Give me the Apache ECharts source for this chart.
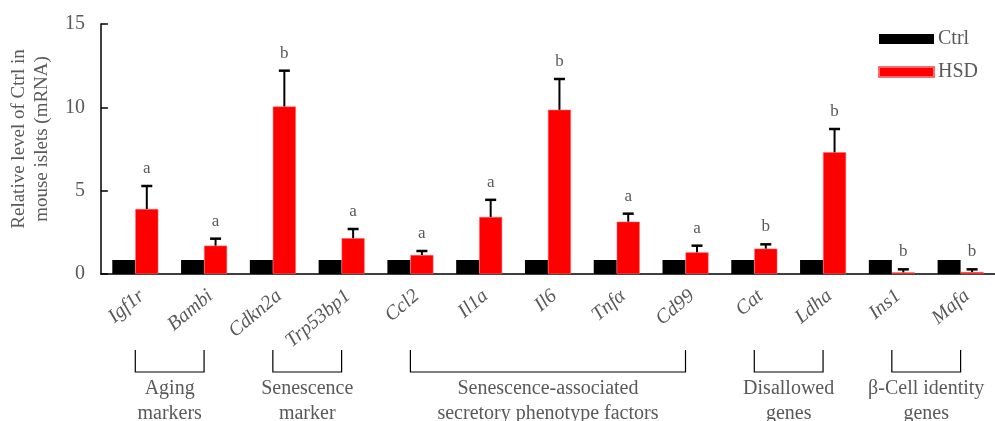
<!DOCTYPE html>
<html>
<head>
<meta charset="utf-8">
<script src="https://cdn.jsdelivr.net/npm/echarts@6/dist/echarts.min.js"></script>
<style>
html,body{margin:0;padding:0;background:#fff;}
#main{width:995px;height:421px;}
</style>
</head>
<body>
<div id="main"></div>
<script>
const categories = ['Igf1r','Bambi','Cdkn2a','Trp53bp1','Ccl2','Il1a','Il6','Tnfα','Cd99','Cat','Ldha','Ins1','Mafa'];
const ctrlValues = [0.84,0.84,0.84,0.84,0.84,0.84,0.84,0.84,0.84,0.84,0.84,0.84,0.84];
const hsdValues = [3.9,1.7,10.05,2.15,1.14,3.42,9.85,3.14,1.3,1.52,7.3,0.1,0.12];
const hsdErrTop = [5.28,2.12,12.2,2.7,1.38,4.45,11.7,3.62,1.7,1.78,8.7,0.28,0.28];
const sigLetters = ['a','a','b','a','a','a','b','a','a','b','b','b','b'];
const yTicks = [0,5,10,15];
const groups = [
  {from:'Igf1r', to:'Bambi', label:'Aging\nmarkers'},
  {from:'Cdkn2a', to:'Trp53bp1', label:'Senescence\nmarker'},
  {from:'Ccl2', to:'Cd99', label:'Senescence-associated\nsecretory phenotype factors'},
  {from:'Cat', to:'Ldha', label:'Disallowed\ngenes'},
  {from:'Ins1', to:'Mafa', label:'β-Cell identity\ngenes'}
];

const FONT = '"Liberation Serif","Times New Roman",serif';
const GRAY = '#595959';
const BAR_W = 23;

const chart = echarts.init(document.getElementById('main'), null, {renderer:'canvas'});

const errData = categories.map((c,i)=>[i, hsdValues[i], hsdErrTop[i], sigLetters[i]]);

const option = {
  animation:false,
  grid:{left:100, right:-13, top:24, bottom:147, containLabel:false},
  legend:{
    orient:'vertical', left:873, top:24, itemWidth:55, itemHeight:10, itemGap:13,
    icon:'rect',
    textStyle:{fontFamily:FONT, fontSize:20, color:GRAY, padding:[0,0,0,-1]},
    data:['Ctrl','HSD']
  },
  xAxis:{
    type:'category', data:categories,
    axisLine:{lineStyle:{color:'#000', width:1.5}},
    axisTick:{show:false},
    axisLabel:{rotate:40, margin:12, verticalAlign:'top', fontFamily:FONT, fontSize:20, fontStyle:'italic', color:GRAY, interval:0}
  },
  yAxis:{
    type:'value', min:0, max:15, interval:5,
    name:'Relative level of Ctrl in\nmouse islets (mRNA)',
    nameLocation:'middle', nameGap:44,
    nameTextStyle:{fontFamily:FONT, fontSize:19, color:GRAY, lineHeight:23, padding:[0,0,0,20]},
    axisLine:{show:true, lineStyle:{color:'#000', width:1.5}},
    axisTick:{show:true, inside:true, length:7, lineStyle:{color:'#000', width:1.5}},
    axisLabel:{margin:16, fontFamily:FONT, fontSize:20, color:GRAY,
      formatter:v=> yTicks.indexOf(v)>=0 ? String(v) : ''},
    splitLine:{show:false}
  },
  series:[
    {name:'Ctrl', type:'bar', data:ctrlValues, barWidth:BAR_W, barGap:'0%',
      itemStyle:{color:'#000'}},
    {name:'HSD', type:'bar', data:hsdValues, barWidth:BAR_W, barGap:'0%',
      itemStyle:{color:'#ff0000', borderColor:'#ff6a6a', borderWidth:0.5}},
    {name:'err', type:'custom', data:errData, z:5,
      renderItem:function(params, api){
        const i = api.value(0);
        const base = api.coord([i, api.value(1)]);
        const top = api.coord([i, api.value(2)]);
        const x = base[0] + BAR_W/2;
        const capHalf = 5.5;
        return {type:'group', children:[
          {type:'line', shape:{x1:x, y1:base[1], x2:x, y2:top[1]}, style:{stroke:'#000', lineWidth:2}},
          {type:'line', shape:{x1:x-capHalf, y1:top[1], x2:x+capHalf, y2:top[1]}, style:{stroke:'#000', lineWidth:2.5}},
          {type:'text', style:{text:sigLetters[i], x:x, y:top[1]-9, textAlign:'center', textVerticalAlign:'bottom',
            font:'17px '+FONT, fill:GRAY}}
        ]};
      }
    }
  ]
};
chart.setOption(option);

function drawGroups(){
  const g = [];
  const lineTop = 350, lineBot = 372;
  groups.forEach(gr=>{
    const x1 = chart.convertToPixel({xAxisIndex:0}, gr.from);
    const x2 = chart.convertToPixel({xAxisIndex:0}, gr.to);
    g.push({type:'polyline', shape:{points:[[x1,lineTop],[x1,lineBot],[x2,lineBot],[x2,lineTop]]},
      style:{stroke:'#000', lineWidth:1.2, fill:null}});
    g.push({type:'text', style:{text:gr.label, x:(x1+x2)/2, y:376, textAlign:'center', textVerticalAlign:'top',
      font:'20px '+FONT, fill:GRAY, lineHeight:25}});
  });
  chart.setOption({graphic:g});
}
drawGroups();
</script>
</body>
</html>
